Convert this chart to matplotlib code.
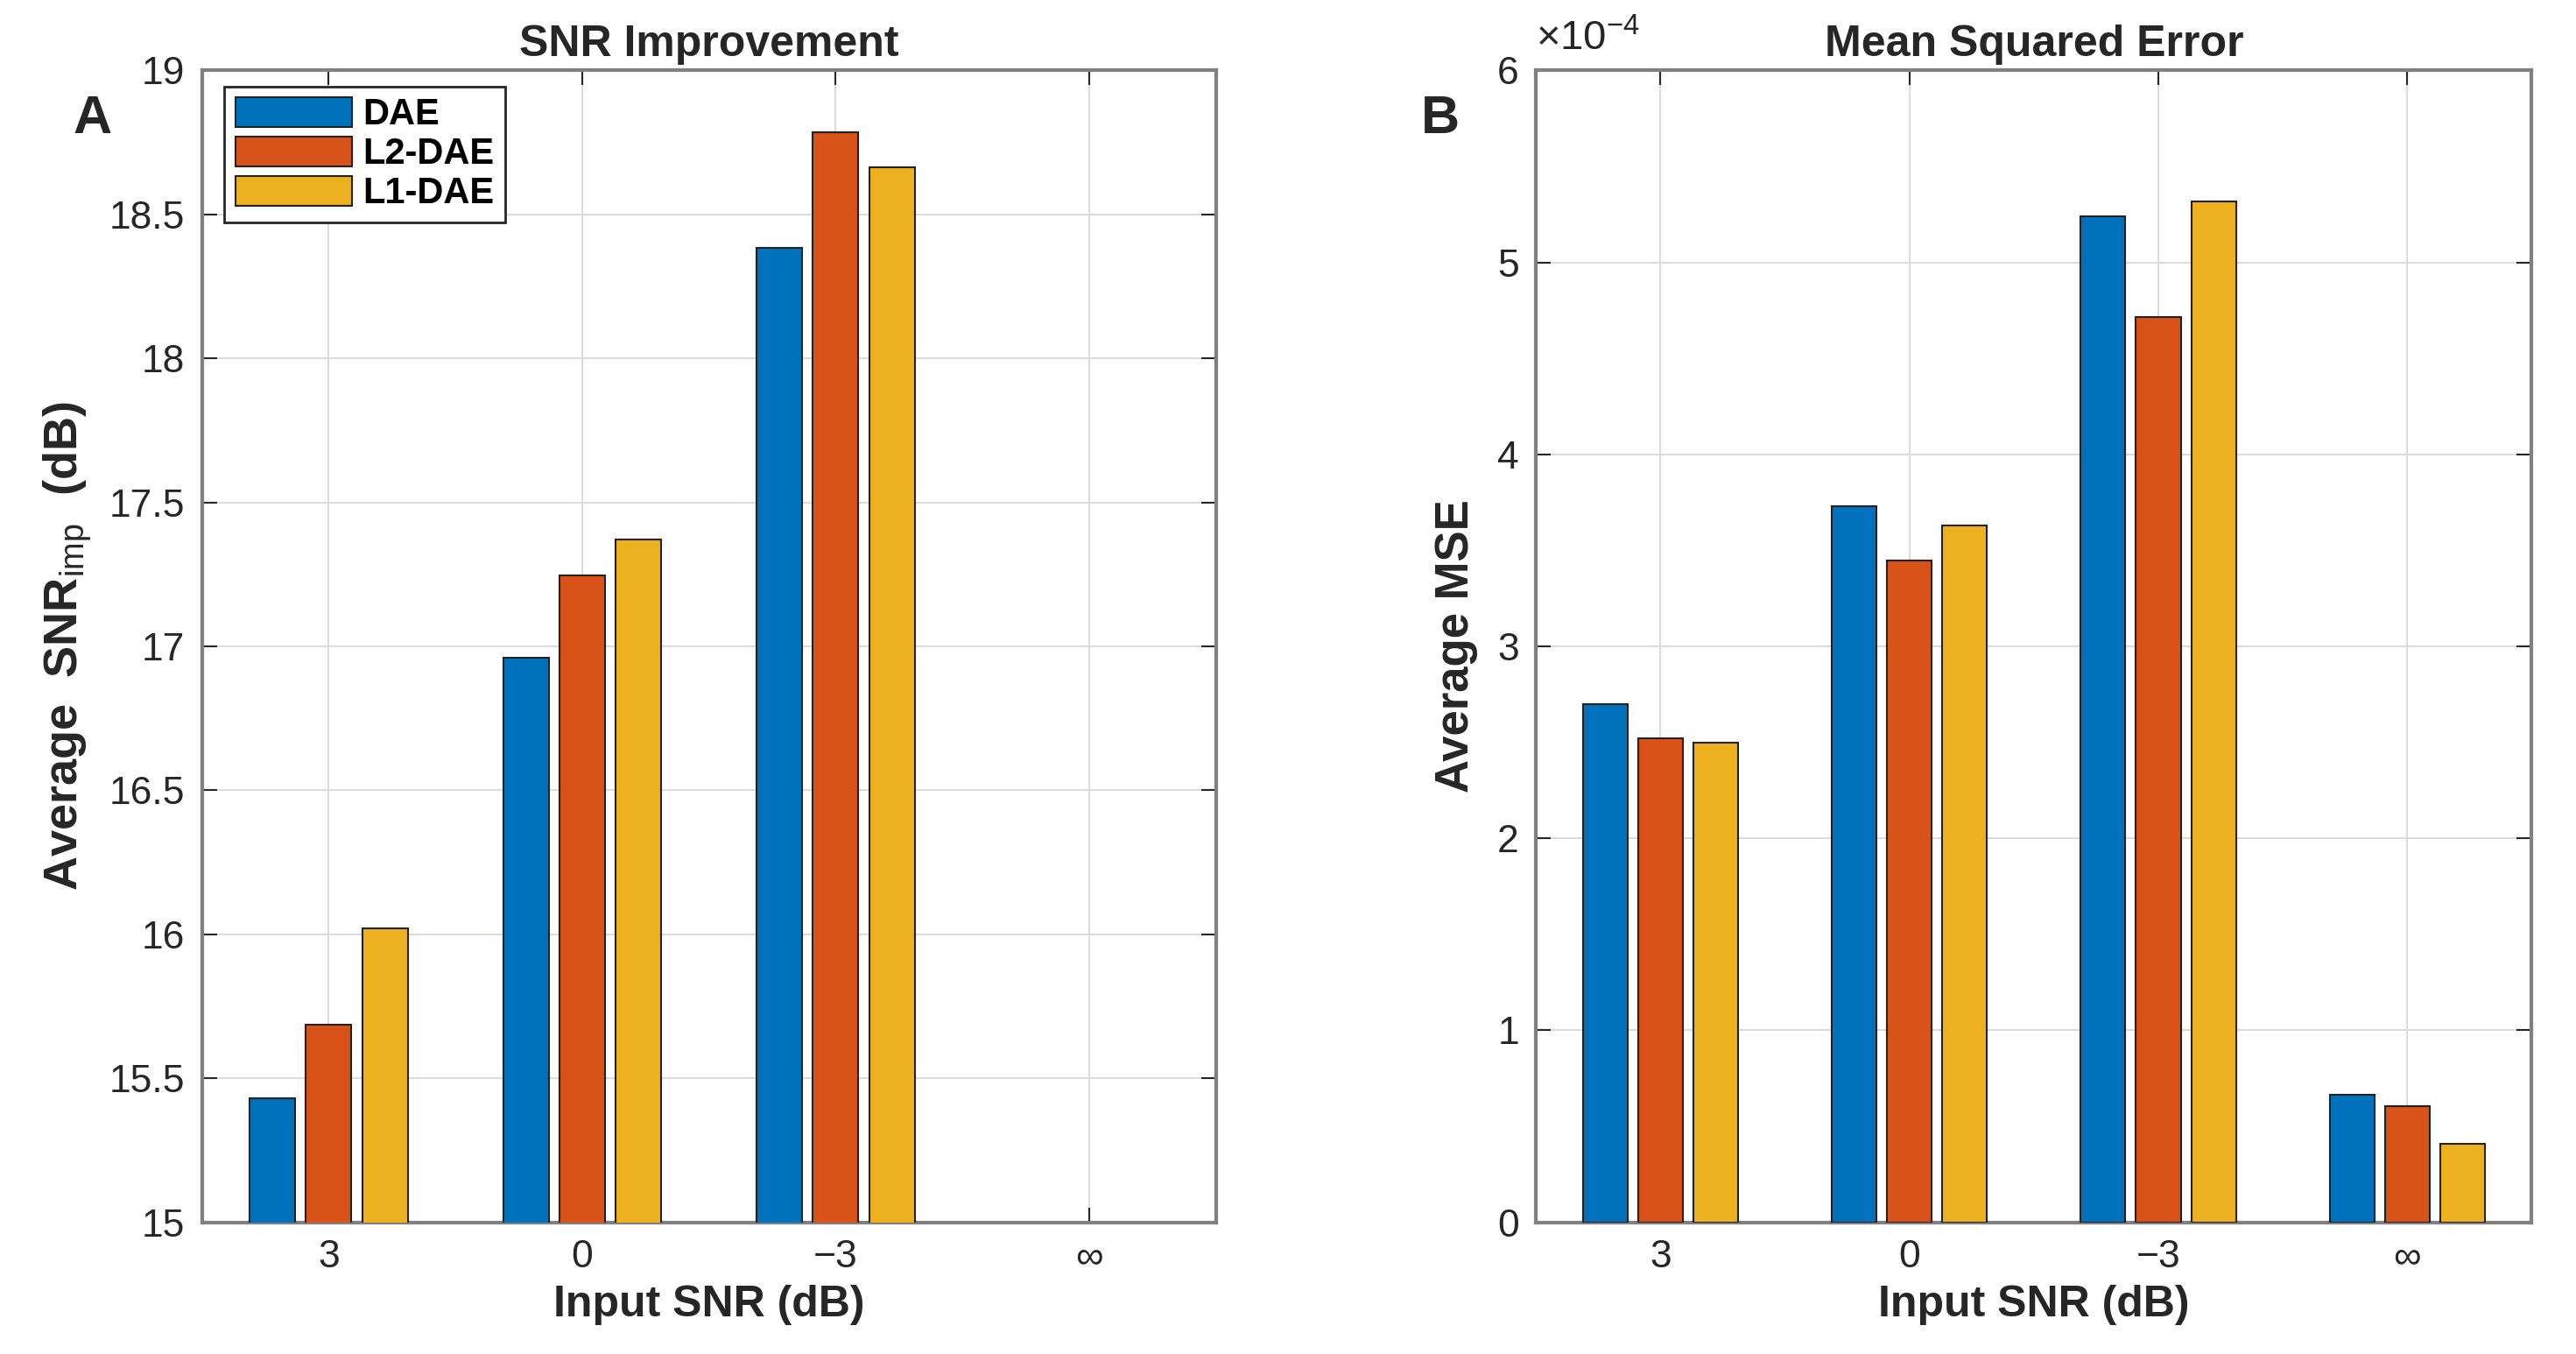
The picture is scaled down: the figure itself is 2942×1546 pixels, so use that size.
import numpy as np
import matplotlib
matplotlib.use('Agg')
import matplotlib.pyplot as plt
from matplotlib import font_manager

# data
groups = ['3', '0', '\u22123', '\u221e']
series = ['DAE', 'L2-DAE', 'L1-DAE']
snr_dae = [15.43, 16.96, 18.385, np.nan]
snr_l2 = [15.685, 17.245, 18.785, np.nan]
snr_l1 = [16.02, 17.37, 18.665, np.nan]
mse_dae = [2.70, 3.73, 5.24, 0.663]
mse_l2 = [2.52, 3.445, 4.715, 0.607]
mse_l1 = [2.50, 3.63, 5.317, 0.41]

colors = ['#0072BD', '#D95319', '#EDB120']

names = {f.name for f in font_manager.fontManager.ttflist}
narrow = 'Liberation Sans Narrow' if 'Liberation Sans Narrow' in names else 'Liberation Sans'
NARROW = [narrow, 'DejaVu Sans']
WIDE = ['Liberation Sans', 'DejaVu Sans']
plt.rcParams['font.family'] = NARROW
plt.rcParams['mathtext.fontset'] = 'custom'
plt.rcParams['mathtext.rm'] = 'Liberation Sans'
plt.rcParams['mathtext.bf'] = 'Liberation Sans:bold'

fig = plt.figure(figsize=(29.42, 15.46), dpi=100)
ax1 = fig.add_axes([0.0784, 0.0973, 0.3936, 0.8507])
ax2 = fig.add_axes([0.5963, 0.0973, 0.3865, 0.8507])

x = np.arange(1, len(groups) + 1)
width = 0.18
step = 0.222


def draw(ax, vals):
    for i, (v, c) in enumerate(zip(vals, colors)):
        ax.bar(x + (i - 1) * step, v, width, color=c, edgecolor='#222222',
               linewidth=1.5, zorder=3, label=series[i])
    ax.set_xlim(0.5, 4.5)
    ax.set_xticks(x)
    ax.set_xticklabels(groups)
    ax.grid(True, color='#dcdcdc', linewidth=1.5, zorder=0)
    ax.set_axisbelow(True)
    ax.tick_params(direction='in', length=12, width=1.5, top=True, right=True,
                   labelsize=32, colors='#262626', pad=14)
    for s in ax.spines.values():
        s.set_color('#808080')
        s.set_linewidth(3)
    ax.set_xlabel('Input SNR (dB)', fontsize=36, fontweight='bold', labelpad=8,
                  color='#262626')


draw(ax1, [snr_dae, snr_l2, snr_l1])
ax1.set_ylim(15, 19)
ax1.set_yticks(np.arange(15, 19.01, 0.5))
ax1.set_yticklabels(['15', '15.5', '16', '16.5', '17', '17.5', '18', '18.5', '19'])
ax1.set_ylabel('Average  SNR$_{\\mathrm{imp}}$  (dB)', fontsize=39, fontweight='bold',
               family=WIDE, labelpad=12, color='#262626')
ax1.set_title('SNR Improvement', fontsize=36, fontweight='bold', pad=12, color='#262626')
leg = ax1.legend(loc='upper left', bbox_to_anchor=(0.022, 0.986), borderaxespad=0,
                 prop={'weight': 'bold', 'size': 30, 'family': NARROW},
                 handlelength=3.2, handleheight=0.85, borderpad=0.3,
                 labelspacing=0.12, handletextpad=0.3, fancybox=False,
                 framealpha=1, edgecolor='#262626')
leg.get_frame().set_linewidth(2)

draw(ax2, [mse_dae, mse_l2, mse_l1])
ax2.set_ylim(0, 6)
ax2.set_yticks(np.arange(0, 7, 1))
ax2.set_ylabel('Average MSE', fontsize=38, fontweight='bold', family=WIDE,
               labelpad=16, color='#262626')
ax2.set_title('Mean Squared Error', fontsize=36, fontweight='bold', pad=12, color='#262626')
ax2.text(0.0, 1.01, '\u00d710$^{\\mathregular{\u22124}}$', transform=ax2.transAxes,
         fontsize=34, va='bottom', ha='left', color='#262626')

fig.text(0.036, 0.912, 'A', fontsize=44, fontweight='bold', family=WIDE,
         ha='center', va='center', color='#262626')
fig.text(0.559, 0.912, 'B', fontsize=44, fontweight='bold', family=WIDE,
         ha='center', va='center', color='#262626')

fig.savefig('out.png', dpi=100)
